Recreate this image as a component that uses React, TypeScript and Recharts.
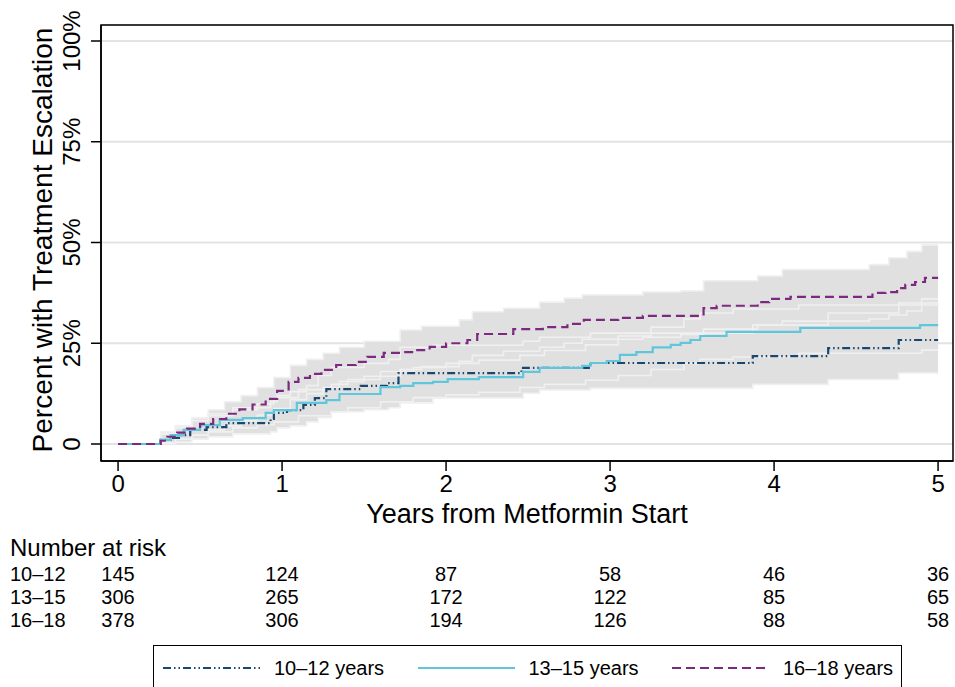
import React from "react";
import {
  ComposedChart,
  Line,
  Area,
  XAxis,
  YAxis,
  CartesianGrid,
  ReferenceArea,
  Label,
} from "recharts";

// ---- data (years from metformin start, cumulative % escalated) ----

const t1012 = [0, 0.26, 0.32, 0.38, 0.44, 0.54, 0.66, 0.93, 0.95, 1.03, 1.13, 1.2, 1.27, 1.48, 1.64, 1.71, 2.46, 2.88, 3.87, 4.33, 4.76, 5.0];
const est1012 = [0, 1.0, 1.5, 2.2, 3.5, 4.2, 5.2, 6.2, 7.7, 8.4, 9.7, 11.4, 13.6, 14.4, 15.1, 17.6, 18.9, 20.1, 21.8, 23.8, 25.8, 25.8];

const t1315 = [0, 0.26, 0.32, 0.4, 0.5, 0.62, 0.76, 0.9, 0.95, 1.09, 1.27, 1.35, 1.6, 1.72, 1.8, 1.92, 2.01, 2.2, 2.47, 2.57, 2.83, 2.88, 2.98, 3.06, 3.16, 3.26, 3.37, 3.43, 3.49, 3.55, 3.71, 4.16, 4.89, 5.0];
const est1315 = [0, 1.0, 2.2, 3.5, 4.7, 6.0, 6.4, 7.7, 8.4, 10.2, 10.9, 12.4, 14.1, 14.4, 15.1, 15.4, 16.1, 16.6, 17.9, 18.9, 19.4, 20.1, 20.6, 22.1, 22.8, 24.0, 24.6, 25.1, 25.8, 26.8, 27.8, 28.8, 29.5, 29.5];

const t1618 = [0, 0.26, 0.3, 0.36, 0.42, 0.5, 0.58, 0.66, 0.74, 0.82, 0.9, 0.97, 1.04, 1.1, 1.17, 1.24, 1.33, 1.45, 1.52, 1.62, 1.72, 1.8, 1.9, 2.0, 2.13, 2.19, 2.41, 2.59, 2.74, 2.84, 3.05, 3.2, 3.57, 3.65, 3.9, 3.97, 4.1, 4.6, 4.68, 4.75, 4.8, 4.86, 4.92, 5.0];
const est1618 = [0, 0.8, 1.8, 2.8, 3.8, 5.0, 6.2, 7.5, 8.6, 9.8, 11.2, 13.2, 15.4, 16.4, 17.4, 18.4, 19.6, 20.4, 21.6, 22.6, 22.8, 23.3, 24.1, 25.0, 25.8, 27.3, 28.5, 29.0, 29.8, 30.8, 31.3, 31.8, 33.7, 34.3, 35.2, 36.0, 36.5, 37.5, 37.7, 38.7, 39.5, 40.2, 41.2, 41.2];

// 95% CI bands
const ciT1012 = [0, 0.26, 0.35, 0.45, 0.55, 0.7, 0.93, 0.97, 1.05, 1.15, 1.22, 1.3, 1.5, 1.65, 1.72, 1.92, 2.47, 2.57, 2.88, 3.87, 4.33, 4.76, 5.0];
const ciLo1012 = [0, 0.1, 0.5, 1.2, 1.8, 2.5, 3.0, 4.0, 4.5, 5.5, 6.5, 8.0, 8.5, 9.0, 10.2, 11.4, 12.6, 13.4, 13.8, 14.8, 16.0, 17.6, 17.6];
const ciHi1012 = [0, 3.0, 4.5, 6.5, 7.5, 9.0, 10.5, 12.0, 13.0, 14.5, 17.0, 19.0, 20.0, 21.0, 24.0, 24.5, 25.5, 26.5, 27.5, 29.5, 32.5, 35.0, 35.0];

const ciT1315 = [0, 0.26, 0.35, 0.45, 0.55, 0.7, 0.85, 0.95, 1.1, 1.3, 1.4, 1.6, 1.8, 2.0, 2.2, 2.45, 2.6, 2.85, 3.05, 3.25, 3.45, 3.55, 3.75, 4.15, 4.9, 5.0];
const ciLo1315 = [0, 0.3, 1.2, 2.2, 3.0, 4.0, 4.8, 5.5, 7.0, 8.0, 9.0, 10.5, 11.5, 12.2, 12.8, 14.0, 14.8, 15.8, 17.0, 18.5, 20.0, 21.0, 21.6, 22.5, 23.3, 23.3];
const ciHi1315 = [0, 2.5, 4.0, 5.8, 7.0, 8.5, 10.0, 11.5, 13.5, 14.8, 16.0, 18.0, 19.0, 20.0, 20.8, 22.0, 23.2, 24.6, 26.8, 29.0, 31.0, 32.5, 33.5, 34.5, 36.0, 36.0];

const ciT1618 = [0, 0.26, 0.35, 0.45, 0.55, 0.65, 0.75, 0.85, 0.95, 1.05, 1.15, 1.25, 1.35, 1.5, 1.72, 1.85, 2.08, 2.16, 2.35, 2.57, 2.72, 2.83, 3.2, 3.43, 3.57, 3.9, 4.05, 4.58, 4.7, 4.81, 4.9, 5.0];
const ciLo1618 = [0, 0.2, 1.2, 2.2, 3.5, 4.5, 5.8, 7.2, 8.8, 11.0, 12.5, 14.0, 15.5, 16.8, 18.5, 19.2, 20.5, 22.0, 23.0, 24.0, 25.0, 26.0, 26.5, 27.2, 28.5, 29.5, 30.5, 31.0, 32.0, 33.0, 34.5, 35.0];
const ciHi1618 = [0, 2.5, 4.5, 6.5, 8.5, 10.5, 12.0, 14.0, 16.5, 19.5, 21.0, 22.5, 24.0, 25.5, 28.3, 29.2, 30.8, 32.8, 33.7, 35.2, 36.2, 37.0, 37.7, 38.0, 40.5, 41.7, 43.3, 44.5, 46.2, 47.8, 49.4, 49.4];

// number at risk table
const riskTimes = [0, 1, 2, 3, 4, 5];
const riskLabels = ["10–12", "13–15", "16–18"];
const risk1012 = [145, 124, 87, 58, 46, 36];
const risk1315 = [306, 265, 172, 122, 85, 65];
const risk1618 = [378, 306, 194, 126, 88, 58];

const yTicks = [0, 25, 50, 75, 100];
const legendNames = ["10–12 years", "13–15 years", "16–18 years"];

// ---- helpers ----
const toRows = (t: number[], v: number[]) => t.map((x, i) => ({ t: x, v: v[i] }));
const toBand = (t: number[], lo: number[], hi: number[]) =>
  t.map((x, i) => ({ t: x, range: [lo[i], hi[i]] }));

const FONT = '"Liberation Sans", Arial, Helvetica, sans-serif';
const X_DOMAIN: [number, number] = [-0.104, 5.091];
const Y_DOMAIN: [number, number] = [-4.22, 103.97];

const series = [
  { name: legendNames[0], rows: toRows(t1012, est1012), band: toBand(ciT1012, ciLo1012, ciHi1012), color: "#1a476f", dash: "8 3 1.5 3 1.5 3" },
  { name: legendNames[1], rows: toRows(t1315, est1315), band: toBand(ciT1315, ciLo1315, ciHi1315), color: "#5fc6dc", dash: undefined },
  { name: legendNames[2], rows: toRows(t1618, est1618), band: toBand(ciT1618, ciLo1618, ciHi1618), color: "#7b2a80", dash: "9 5" },
];
const riskRows = [risk1012, risk1315, risk1618];

const YTick = ({ y, payload }: any) => (
  <text
    x={80}
    y={y}
    transform={`rotate(-90, 80, ${y})`}
    textAnchor="middle"
    fontSize={24}
    fontFamily={FONT}
    fill="#000"
  >
    {payload.value === 0 ? "0" : `${payload.value}%`}
  </text>
);

const Legend = () => (
  <div
    style={{
      position: "absolute",
      left: 153,
      top: 645,
      width: 749,
      height: 60,
      border: "1.5px solid #000",
      boxSizing: "border-box",
      background: "#fff",
      fontFamily: FONT,
      fontSize: 20,
    }}
  >
    {series.map((s, i) => (
      <div key={s.name} style={{ position: "absolute", left: 9 + 254.5 * i, top: 10, display: "flex", alignItems: "center" }}>
        <svg width={97} height={24}>
          <line x1={0} y1={12} x2={97} y2={12} stroke={s.color} strokeWidth={2.2} strokeDasharray={s.dash} />
        </svg>
        <span style={{ marginLeft: 14, lineHeight: "24px" }}>{s.name}</span>
      </div>
    ))}
  </div>
);

const App = () => {
  return (
    <div style={{ position: "absolute", left: 0, top: 0, width: 955, height: 687, overflow: "hidden", background: "#fff" }}>
      <ComposedChart width={955} height={687} margin={{ top: 25, right: 2, bottom: 54, left: 0 }}>
        <CartesianGrid vertical={false} stroke="#e3e3e3" strokeWidth={2} />
        <XAxis
          dataKey="t"
          type="number"
          domain={X_DOMAIN}
          allowDataOverflow
          ticks={riskTimes}
          height={103}
          tickSize={10}
          tickMargin={4}
          tick={{ fontSize: 24, fill: "#000", fontFamily: FONT }}
          axisLine={{ stroke: "#000", strokeWidth: 1.5 }}
          tickLine={{ stroke: "#000", strokeWidth: 1.5 }}
        >
          <Label value="Years from Metformin Start" position="insideBottom" offset={41} fontSize={27} fill="#000" fontFamily={FONT} />
          <Label
            content={({ viewBox }: any) => (
              <text x={10} y={viewBox.y + viewBox.height - 8} fontSize={24} fontFamily={FONT} fill="#000">
                Number at risk
              </text>
            )}
          />
        </XAxis>
        {riskRows.map((row, r) => (
          <XAxis
            key={r}
            xAxisId={`risk${r}`}
            dataKey="t"
            type="number"
            domain={X_DOMAIN}
            allowDataOverflow
            ticks={riskTimes}
            height={23}
            tickSize={0}
            tickMargin={3}
            axisLine={false}
            tickLine={false}
            tick={{ fontSize: 20, fill: "#000", fontFamily: FONT }}
            tickFormatter={(v: number) => String(row[riskTimes.indexOf(v)])}
          >
            <Label
              content={({ viewBox }: any) => (
                <text x={10} y={viewBox.y + 17} fontSize={20} fontFamily={FONT} fill="#000">
                  {riskLabels[r]}
                </text>
              )}
            />
          </XAxis>
        ))}
        <YAxis
          type="number"
          domain={Y_DOMAIN}
          allowDataOverflow
          ticks={yTicks}
          width={101}
          tickSize={10}
          tick={<YTick />}
          axisLine={{ stroke: "#000", strokeWidth: 1.5 }}
          tickLine={{ stroke: "#000", strokeWidth: 1.5 }}
        >
          <Label
            content={({ viewBox }: any) => {
              const cy = viewBox.y + viewBox.height / 2 - 3;
              return (
                <text x={52} y={cy} transform={`rotate(-90, 52, ${cy})`} textAnchor="middle" fontSize={28} fontFamily={FONT} fill="#000">
                  Percent with Treatment Escalation
                </text>
              );
            }}
          />
        </YAxis>

        {series.map((s) => (
          <Area
            key={`fill-${s.name}`}
            data={s.band}
            dataKey="range"
            type="stepAfter"
            fill="#e0e0e0"
            fillOpacity={1}
            stroke="none"
            isAnimationActive={false}
            activeDot={false}
          />
        ))}
        {series.map((s) => (
          <Area
            key={`edge-${s.name}`}
            data={s.band}
            dataKey="range"
            type="stepAfter"
            fill="none"
            stroke="#f0f0f0"
            strokeWidth={1.6}
            isAnimationActive={false}
            activeDot={false}
          />
        ))}
        {series.map((s) => (
          <Line
            key={`line-${s.name}`}
            data={s.rows}
            dataKey="v"
            type="stepAfter"
            stroke={s.color}
            strokeWidth={2.2}
            strokeDasharray={s.dash}
            dot={false}
            isAnimationActive={false}
          />
        ))}
        <ReferenceArea x1={X_DOMAIN[0]} x2={X_DOMAIN[1]} y1={Y_DOMAIN[0]} y2={Y_DOMAIN[1]} fill="none" stroke="#000" strokeWidth={1.5} />
      </ComposedChart>
      <Legend />
    </div>
  );
};

export default App;
